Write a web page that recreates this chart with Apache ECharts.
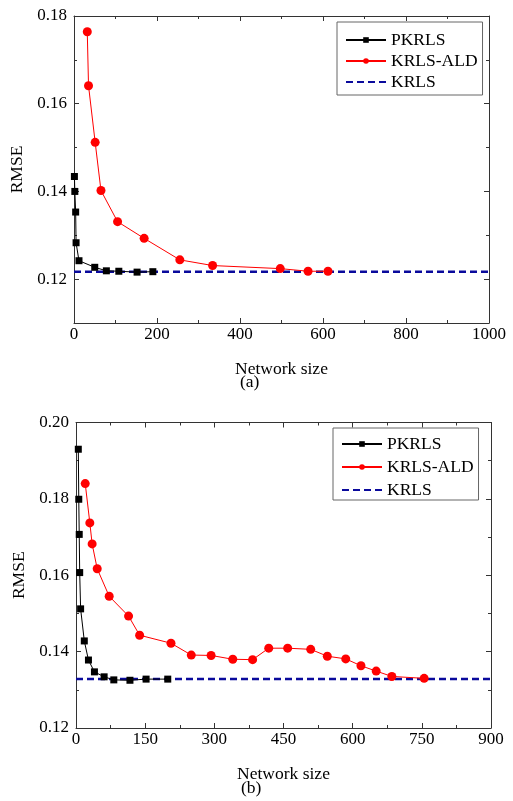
<!DOCTYPE html>
<html>
<head>
<meta charset="utf-8">
<script src="https://cdn.jsdelivr.net/npm/echarts@6/dist/echarts.min.js"></script>
<style>
html,body{margin:0;padding:0;background:#fff;}
#c{width:513px;height:801px;}
</style>
</head>
<body>
<div id="c"></div>
<script>
// ---- Data: panel (a) ----
var aPkrlsX = [1, 2, 4, 5, 12, 50, 78, 108, 152, 190];
var aPkrlsY = [0.1434, 0.1400, 0.1353, 0.1283, 0.1242, 0.1227, 0.1219, 0.1218, 0.1216, 0.1217];
var aAldX = [32, 35, 51, 65, 105, 169, 255, 334, 497, 564, 612];
var aAldY = [0.1764, 0.1641, 0.1512, 0.1402, 0.1331, 0.1293, 0.1244, 0.1231, 0.1224, 0.1218, 0.1218];
var aKrlsX = [0, 1000];
var aKrlsY = [0.1217, 0.1217];
var aYMajor = [0.12, 0.14, 0.16, 0.18];
var aYMinor = [0.13, 0.15, 0.17];
// ---- Data: panel (b) ----
var bPkrlsX = [5, 6, 7, 8, 10, 18, 27, 40, 61, 82, 117, 152, 199];
var bPkrlsY = [0.1930, 0.1799, 0.1707, 0.1607, 0.1512, 0.1428, 0.1378, 0.1347, 0.1334, 0.1326, 0.1325, 0.1328, 0.1328];
var bAldX = [20, 30, 35, 46, 72, 114, 138, 206, 250, 293, 340, 383, 418, 459, 509, 545, 585, 618, 651, 685, 755];
var bAldY = [0.1840, 0.1737, 0.1682, 0.1617, 0.1545, 0.1493, 0.1443, 0.1422, 0.1391, 0.1390, 0.1380, 0.1379, 0.1409, 0.1409, 0.1406, 0.1388, 0.1381, 0.1363, 0.1349, 0.1335, 0.1330];
var bKrlsX = [0, 900];
var bKrlsY = [0.1328, 0.1328];
var seriesNames = ['PKRLS', 'KRLS-ALD', 'KRLS'];
var xName = 'Network size';
var yName = 'RMSE';
var panelLabels = ['(a)', '(b)'];

function zip(xs, ys) { return xs.map(function (x, i) { return [x, ys[i]]; }); }

var FONT = "'Liberation Serif', 'Times New Roman', serif";
var AX = '#333';

var chart = echarts.init(document.getElementById('c'), null, {renderer: 'canvas'});

function xAxisPair(grid, max, interval) {
  var base = {
    gridIndex: grid, type: 'value', min: 0, max: max, interval: interval,
    splitLine: {show: false},
    axisLine: {show: true, onZero: false, lineStyle: {color: AX, width: 1}},
    axisTick: {show: true, inside: true, length: 5, lineStyle: {color: AX}},
    minorTick: {show: true, splitNumber: 2, length: 3, lineStyle: {color: AX}}
  };
  var bottom = Object.assign({}, base, {
    position: 'bottom',
    name: xName, nameLocation: 'middle', nameGap: 37,
    nameTextStyle: {fontFamily: FONT, fontSize: 17.5, color: '#000'},
    axisLabel: {show: true, margin: 3, fontFamily: FONT, fontSize: 17, color: '#000',
                formatter: function (v) { return String(v); }}
  });
  var top = Object.assign({}, base, {position: 'top', axisLabel: {show: false}});
  return [bottom, top];
}

function legendData() {
  return [
    {name: seriesNames[0]},
    {name: seriesNames[1]},
    {name: seriesNames[2], itemStyle: {color: 'rgba(0,0,0,0)', borderWidth: 0}}
  ];
}

var option = {
  backgroundColor: '#fff',
  animation: false,
  grid: [
    {left: 74, right: 24, top: 16, bottom: 478, outerBoundsMode: 'none'},
    {left: 76, right: 22, top: 422.5, bottom: 73, outerBoundsMode: 'none'}
  ],
  xAxis: [].concat(xAxisPair(0, 1000, 200), xAxisPair(1, 900, 150)),
  yAxis: [
    {gridIndex: 0, type: 'value', min: 0.11, max: 0.18, position: 'left',
     name: yName, nameLocation: 'middle', nameGap: 41,
     nameTextStyle: {fontFamily: FONT, fontSize: 17.5, color: '#000'},
     splitLine: {show: false},
     axisLine: {show: true, onZero: false, lineStyle: {color: AX}},
     axisTick: {show: true, inside: true, length: 5, customValues: aYMajor, lineStyle: {color: AX}},
     axisLabel: {show: true, customValues: aYMajor, margin: 7, fontFamily: FONT, fontSize: 17, color: '#000',
                 formatter: function (v) { return v.toFixed(2); }}},
    {gridIndex: 0, type: 'value', min: 0.11, max: 0.18, position: 'left',
     splitLine: {show: false}, axisLine: {show: false, onZero: false},
     axisTick: {show: true, inside: true, length: 3, customValues: aYMinor, lineStyle: {color: AX}},
     axisLabel: {show: false}},
    {gridIndex: 0, type: 'value', min: 0.11, max: 0.18, position: 'right',
     splitLine: {show: false},
     axisLine: {show: true, onZero: false, lineStyle: {color: AX}},
     axisTick: {show: true, inside: true, length: 5, customValues: aYMajor, lineStyle: {color: AX}},
     axisLabel: {show: false}},
    {gridIndex: 0, type: 'value', min: 0.11, max: 0.18, position: 'right',
     splitLine: {show: false}, axisLine: {show: false, onZero: false},
     axisTick: {show: true, inside: true, length: 3, customValues: aYMinor, lineStyle: {color: AX}},
     axisLabel: {show: false}},
    {gridIndex: 1, type: 'value', min: 0.12, max: 0.20, interval: 0.02, position: 'left',
     name: yName, nameLocation: 'middle', nameGap: 42,
     nameTextStyle: {fontFamily: FONT, fontSize: 17.5, color: '#000'},
     splitLine: {show: false},
     axisLine: {show: true, onZero: false, lineStyle: {color: AX}},
     axisTick: {show: true, inside: true, length: 5, lineStyle: {color: AX}},
     minorTick: {show: true, splitNumber: 2, length: 3, lineStyle: {color: AX}},
     axisLabel: {show: true, margin: 7, fontFamily: FONT, fontSize: 17, color: '#000',
                 formatter: function (v) { return v.toFixed(2); }}},
    {gridIndex: 1, type: 'value', min: 0.12, max: 0.20, interval: 0.02, position: 'right',
     splitLine: {show: false},
     axisLine: {show: true, onZero: false, lineStyle: {color: AX}},
     axisTick: {show: true, inside: true, length: 5, lineStyle: {color: AX}},
     minorTick: {show: true, splitNumber: 2, length: 3, lineStyle: {color: AX}},
     axisLabel: {show: false}}
  ],
  legend: [
    {orient: 'vertical', left: 337, top: 22, itemWidth: 40, itemHeight: 7, itemGap: 1,
     padding: [8, 5, 3, 8], borderColor: '#666', borderWidth: 1, backgroundColor: '#fff',
     textStyle: {fontFamily: FONT, fontSize: 17.5, color: '#000', lineHeight: 20},
     data: legendData()},
    {orient: 'vertical', left: 333, top: 428, itemWidth: 40, itemHeight: 7, itemGap: 3,
     padding: [6, 5, 0, 8], borderColor: '#666', borderWidth: 1, backgroundColor: '#fff',
     textStyle: {fontFamily: FONT, fontSize: 17.5, color: '#000', lineHeight: 20},
     data: legendData()}
  ],
  graphic: [
    {type: 'text', left: 240, top: 373, style: {text: panelLabels[0], font: '17.5px ' + FONT, fill: '#000'}},
    {type: 'text', left: 241, top: 779, style: {text: panelLabels[1], font: '17.5px ' + FONT, fill: '#000'}}
  ],
  series: [
    {name: seriesNames[2], type: 'line', xAxisIndex: 0, yAxisIndex: 0, data: zip(aKrlsX, aKrlsY),
     symbol: 'none', lineStyle: {color: '#0a0a9c', width: 2.5, type: [7, 4]}, itemStyle: {color: '#0a0a9c'}, z: 3},
    {name: seriesNames[0], type: 'line', xAxisIndex: 0, yAxisIndex: 0, data: zip(aPkrlsX, aPkrlsY),
     symbol: 'rect', symbolSize: 7, lineStyle: {color: '#000', width: 1}, itemStyle: {color: '#000'}, z: 4},
    {name: seriesNames[1], type: 'line', xAxisIndex: 0, yAxisIndex: 0, data: zip(aAldX, aAldY),
     symbol: 'circle', symbolSize: 9, lineStyle: {color: '#ff0000', width: 1}, itemStyle: {color: '#ff0000'}, z: 5},
    {name: seriesNames[2], type: 'line', xAxisIndex: 2, yAxisIndex: 4, data: zip(bKrlsX, bKrlsY),
     symbol: 'none', lineStyle: {color: '#0a0a9c', width: 2.5, type: [7, 4]}, itemStyle: {color: '#0a0a9c'}, z: 3},
    {name: seriesNames[0], type: 'line', xAxisIndex: 2, yAxisIndex: 4, data: zip(bPkrlsX, bPkrlsY),
     symbol: 'rect', symbolSize: 7, lineStyle: {color: '#000', width: 1}, itemStyle: {color: '#000'}, z: 4},
    {name: seriesNames[1], type: 'line', xAxisIndex: 2, yAxisIndex: 4, data: zip(bAldX, bAldY),
     symbol: 'circle', symbolSize: 9, lineStyle: {color: '#ff0000', width: 1}, itemStyle: {color: '#ff0000'}, z: 5}
  ]
};
chart.setOption(option);
</script>
</body>
</html>
